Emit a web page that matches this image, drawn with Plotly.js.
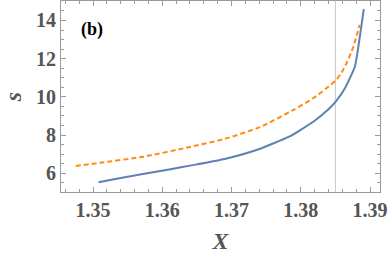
<!DOCTYPE html>
<html>
<head>
<meta charset="utf-8">
<script src="https://cdn.plot.ly/plotly-3.0.1.min.js"></script>
<style>html,body{margin:0;padding:0;background:#fff;}#chart{width:390px;height:258px;}</style>
</head>
<body>
<div id="chart"></div>
<script>
// Solid (blue) series
var blueX = [1.3508, 1.3540, 1.3572, 1.3610, 1.3640, 1.3690, 1.3736, 1.3784, 1.3801, 1.3820, 1.3840, 1.3851, 1.3864, 1.3878, 1.3882, 1.3886, 1.3891];
var blueS = [5.53, 5.75, 5.96, 6.20, 6.40, 6.75, 7.22, 7.93, 8.30, 8.75, 9.35, 9.78, 10.47, 11.58, 12.35, 13.33, 14.59];
// Dashed (orange) series
var orangeX = [1.3475, 1.3510, 1.3573, 1.3640, 1.3690, 1.3741, 1.3789, 1.3818, 1.3837, 1.3851, 1.3859, 1.3866, 1.3876, 1.3885];
var orangeS = [6.38, 6.55, 6.87, 7.38, 7.80, 8.42, 9.31, 9.93, 10.45, 10.88, 11.28, 11.76, 12.63, 13.77];
// Reference vertical line
var refLineX = [1.385];
// Tick labels
var xTickVals = [1.35, 1.36, 1.37, 1.38, 1.39];
var xTickText = ['1.35', '1.36', '1.37', '1.38', '1.39'];
var yTickVals = [6, 8, 10, 12, 14];
var yTickText = ['6', '8', '10', '12', '14'];

var serif = '"Liberation Serif", "Times New Roman", serif';
var tickFont = {family: serif, size: 20, color: '#555555', weight: 700};
var axisCommon = {
  showline: true, linecolor: '#9a9a9a', linewidth: 1, mirror: 'ticks',
  ticks: 'inside', ticklen: 5, tickcolor: '#9a9a9a', tickwidth: 1,
  showgrid: false, zeroline: false, tickfont: tickFont, tickmode: 'array'
};
function bold(arr) { return arr.map(function (t) { return '<b>' + t + '</b>'; }); }

var traces = [
  {x: blueX, y: blueS, type: 'scatter', mode: 'lines', line: {color: '#5E81B5', width: 2, shape: 'spline', smoothing: 0.6}, hoverinfo: 'skip'},
  {x: orangeX, y: orangeS, type: 'scatter', mode: 'lines', line: {color: '#FF8C0F', width: 2, dash: '5px,3px', shape: 'spline', smoothing: 0.6}, hoverinfo: 'skip'}
];

var layout = {
  width: 390, height: 258,
  margin: {l: 61, r: 10, t: 1, b: 66, pad: 0},
  paper_bgcolor: '#ffffff', plot_bgcolor: '#ffffff',
  showlegend: false,
  xaxis: Object.assign({}, axisCommon, {
    range: [1.34538, 1.39144], tickvals: xTickVals, ticktext: bold(xTickText),
    minor: {ticks: 'inside', ticklen: 3, tickcolor: '#9a9a9a', dtick: 0.002, tick0: 1.35, showgrid: false},
    title: {text: '<b><i>X</i></b>', font: {family: serif, size: 24, color: '#555555'}, standoff: 12}
  }),
  yaxis: Object.assign({}, axisCommon, {
    range: [5.02, 15.02], tickvals: yTickVals, ticktext: bold(yTickText),
    minor: {ticks: 'inside', ticklen: 3, tickcolor: '#9a9a9a', dtick: 0.5, tick0: 5, showgrid: false},
    title: {text: '<b><i>s</i></b>', font: {family: serif, size: 24, color: '#555555'}, standoff: 12}
  }),
  shapes: [{type: 'line', xref: 'x', yref: 'paper', x0: refLineX[0], x1: refLineX[0], y0: 0, y1: 1, line: {color: '#c8c8c8', width: 1}, layer: 'below'}],
  annotations: [{text: '<b>(b)</b>', xref: 'paper', yref: 'paper', x: 0.097, y: 0.853, showarrow: false, xanchor: 'center', yanchor: 'middle',
    font: {family: serif, size: 18, color: '#000000'}}]
};

Plotly.newPlot('chart', traces, layout, {staticPlot: true, displayModeBar: false});
</script>
</body>
</html>
